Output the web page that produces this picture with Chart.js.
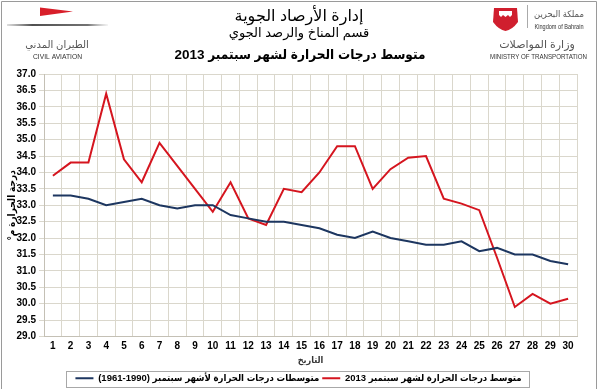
<!DOCTYPE html>
<html>
<head>
<meta charset="utf-8">
<script src="https://cdn.jsdelivr.net/npm/chart.js@4.4.0/dist/chart.umd.min.js"></script>
<style>
  html, body { margin: 0; padding: 0; background: #fff; }
  #wrap { width: 600px; height: 389px; position: relative; }
  canvas { direction: rtl; }
</style>
</head>
<body>
<div id="wrap"><canvas id="temp-chart"></canvas></div>
<script>
// days of September (x axis)
const days = ['1','2','3','4','5','6','7','8','9','10','11','12','13','14','15',
              '16','17','18','19','20','21','22','23','24','25','26','27','28','29','30'];

// long term daily normals 1961-1990
const normals = [33.3, 33.3, 33.2, 33.0, 33.1, 33.2, 33.0, 32.9, 33.0, 33.0,
                 32.7, 32.6, 32.5, 32.5, 32.4, 32.3, 32.1, 32.0, 32.2, 32.0,
                 31.9, 31.8, 31.8, 31.9, 31.6, 31.7, 31.5, 31.5, 31.3, 31.2];

// daily mean temperature september 2013
const sep2013 = [33.9, 34.3, 34.3, 36.4, 34.4, 33.7, 34.9, 34.2, 33.5, 32.8,
                 33.7, 32.6, 32.4, 33.5, 33.4, 34.0, 34.8, 34.8, 33.5, 34.1,
                 34.45, 34.5, 33.2, 33.05, 32.85, 31.4, 29.9, 30.3, 30.0, 30.15];

const seriesNames = ['متوسطات درجات الحرارة لأشهر سبتمبر (1990-1961)', 'متوسط درجات الحرارة لشهر سبتمبر 2013'];
const titleLines = ['إدارة الأرصاد الجوية', 'قسم المناخ والرصد الجوي', 'متوسط درجات الحرارة لشهر سبتمبر 2013'];
const xTitle = 'التاريخ';
const yTitle = 'درجة الحرارة م°';

const FONT = "'Liberation Sans', Arial, 'DejaVu Sans', sans-serif";
const COND = "'Liberation Sans', Arial, 'DejaVu Sans Condensed', 'DejaVu Sans', sans-serif";
const gridColor = '#dad7cc';

// header, logos, page frame and the box round the legend
const decor = {
  id: 'decor',
  afterLayout(chart) {
    // the legend sits a little right of the centre in the original
    // (hit boxes get rebuilt from left/right by the legend plugin afterwards)
    const lg = chart.legend;
    lg.left += 7;
    lg.right += 7;
  },
  beforeDraw(chart) {
    const c = chart.ctx;
    c.save();
    c.fillStyle = '#fff';
    c.fillRect(0, 0, chart.width, chart.height);

    // header text (3 lines, centred on the page)
    c.textAlign = 'center';
    c.textBaseline = 'middle';
    c.fillStyle = '#000';
    c.font = '16px ' + FONT;
    c.fillText(titleLines[0], 299, 17);
    c.font = '13px ' + FONT;
    c.fillText(titleLines[1], 299, 33);
    c.font = 'bold 13.5px ' + COND;
    c.fillText(titleLines[2], 300, 55);

    // civil aviation logo (left)
    c.fillStyle = '#d81f2a';
    c.beginPath();
    c.moveTo(40, 7.5); c.lineTo(73, 11.5); c.lineTo(40, 16); c.closePath();
    c.fill();
    const g = c.createLinearGradient(7, 0, 108, 0);
    g.addColorStop(0, 'rgba(90,90,90,0.2)');
    g.addColorStop(0.25, 'rgba(60,60,60,0.9)');
    g.addColorStop(0.8, 'rgba(80,80,80,0.8)');
    g.addColorStop(1, 'rgba(150,150,150,0.1)');
    c.fillStyle = g;
    c.fillRect(7, 24, 101, 2);
    c.fillStyle = '#555';
    c.font = '10px ' + FONT;
    c.fillText('الطيران المدني', 57, 45, 66);
    c.fillStyle = '#333';
    c.font = '8px ' + FONT;
    c.fillText('CIVIL AVIATION', 57.5, 57, 49);

    // kingdom of bahrain / ministry logo (right)
    c.fillStyle = '#d01f2e';
    c.beginPath();
    c.moveTo(494, 8); c.lineTo(517, 8); c.lineTo(518, 22);
    c.quadraticCurveTo(512, 30, 505.5, 31);
    c.quadraticCurveTo(499, 30, 493, 22); c.closePath();
    c.fill();
    c.fillStyle = '#fff';
    c.beginPath();
    c.moveTo(499, 11); c.lineTo(512, 11); c.lineTo(512, 15);
    c.lineTo(510, 17); c.lineTo(508, 15); c.lineTo(505.5, 17); c.lineTo(503, 15);
    c.lineTo(501, 17); c.lineTo(499, 15); c.closePath();
    c.fill();
    c.strokeStyle = '#aaa';
    c.lineWidth = 1;
    c.beginPath(); c.moveTo(527.5, 5); c.lineTo(527.5, 28); c.stroke();
    c.fillStyle = '#555';
    c.font = '9px ' + FONT;
    c.fillText('مملكة البحرين', 559, 15, 50);
    c.fillStyle = '#333';
    c.font = '8px ' + FONT;
    c.fillText('Kingdom of Bahrain', 559, 27, 49);
    c.fillStyle = '#555';
    c.font = '11px ' + FONT;
    c.fillText('وزارة المواصلات', 537, 45, 94);
    c.fillStyle = '#333';
    c.font = '8px ' + FONT;
    c.fillText('MINISTRY OF TRANSPORTATION', 538.5, 57, 97);

    // frame
    c.strokeStyle = '#9a9a9a';
    c.beginPath();
    c.moveTo(1.5, chart.height); c.lineTo(1.5, 1.5); c.lineTo(596.5, 1.5); c.lineTo(596.5, chart.height);
    c.stroke();
    c.restore();
  },
  afterDraw(chart) {
    const boxes = chart.legend.legendHitBoxes;
    if (!boxes || !boxes.length) return;
    let l = 9999, r = 0, t = 9999, b = 0;
    boxes.forEach(h => {
      l = Math.min(l, h.left); r = Math.max(r, h.left + h.width);
      t = Math.min(t, h.top); b = Math.max(b, h.top + h.height);
    });
    const c = chart.ctx;
    c.save();
    c.strokeStyle = '#a8a8a8';
    c.lineWidth = 1;
    c.strokeRect(Math.round(l - 9) + 0.5, Math.round(t - 3) + 0.5, Math.round(r - l + 17), Math.round(b - t + 6));
    c.restore();
  }
};

new Chart(document.getElementById('temp-chart').getContext('2d'), {
  type: 'line',
  data: {
    labels: days,
    datasets: [{
      label: seriesNames[0],
      data: normals,
      borderColor: '#1d3660',
      backgroundColor: '#1d3660',
      borderWidth: 2,
      pointRadius: 0,
      tension: 0
    }, {
      label: seriesNames[1],
      data: sep2013,
      borderColor: '#d5151f',
      backgroundColor: '#d5151f',
      borderWidth: 2,
      pointRadius: 0,
      tension: 0
    }]
  },
  options: {
    responsive: true,
    maintainAspectRatio: false,
    animation: false,
    devicePixelRatio: 1,
    layout: { padding: { left: 6, right: 23, top: 74, bottom: -4 } },
    plugins: {
      legend: {
        position: 'bottom',
        labels: {
          usePointStyle: true,
          pointStyle: 'line',
          pointStyleWidth: 18,
          color: '#000',
          font: { family: COND, size: 9.5, weight: 'bold' },
          padding: 3
        }
      },
      tooltip: { enabled: false }
    },
    scales: {
      x: {
        offset: true,
        grid: { offset: true, color: gridColor, drawTicks: false },
        border: { color: '#c4c0b5' },
        ticks: { color: '#000', font: { family: FONT, size: 10, weight: 'bold' }, padding: 4, maxRotation: 0, autoSkip: false },
        title: { display: true, text: xTitle, color: '#333', font: { family: COND, size: 9, weight: 'bold', lineHeight: 1 }, padding: { top: 0, bottom: 5 } }
      },
      y: {
        min: 29,
        max: 37,
        afterFit: s => { s.width = 38; },
        grid: { color: gridColor, tickLength: 5 },
        border: { color: '#c4c0b5' },
        ticks: { stepSize: 0.5, autoSkip: false, color: '#000', font: { family: FONT, size: 10, weight: 'bold' }, padding: 3,
                 callback: v => v.toFixed(1) },
        title: { display: true, text: yTitle, color: '#000', font: { family: COND, size: 10, weight: 'bold' }, padding: 0 }
      }
    }
  },
  plugins: [decor]
});
</script>
</body>
</html>
